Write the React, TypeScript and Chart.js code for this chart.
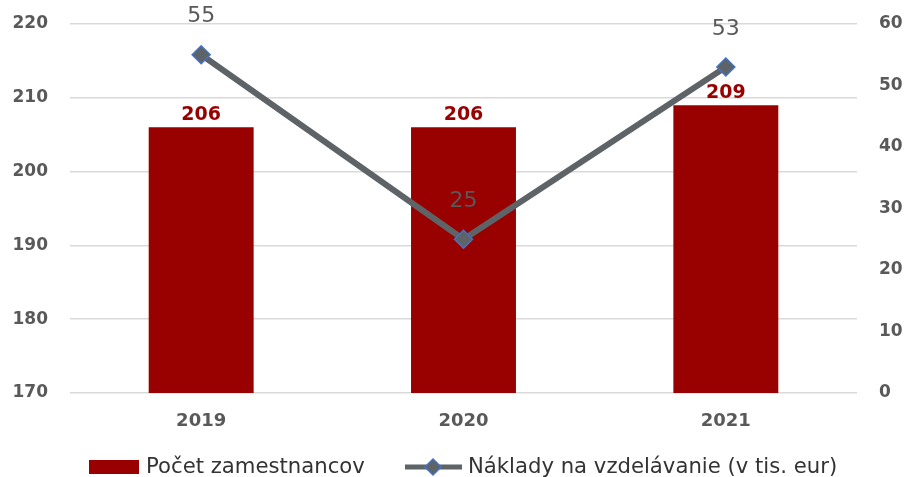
import React, { useEffect, useRef } from "react";
import { Chart, registerables } from "chart.js";

Chart.register(...registerables);

const categories = ["2019", "2020", "2021"];
const employees = [206, 206, 209];
const trainingCosts = [55, 25, 53];
const barLabel = "Počet zamestnancov";
const lineLabel = "Náklady na vzdelávanie (v tis. eur)";

const BAR_COLOR = "#990000";
const LINE_COLOR = "#5d6366";
const MARKER_BORDER = "#4472c4";
const TEXT_GREY = "#595959";
const FONT = "'DejaVu Sans', sans-serif";

const labelsPlugin = {
  id: "valueLabels",
  afterDatasetsDraw(chart: any) {
    const ctx = chart.ctx;
    ctx.save();
    ctx.textAlign = "center";
    ctx.textBaseline = "alphabetic";
    const barMeta = chart.getDatasetMeta(0);
    ctx.fillStyle = BAR_COLOR;
    ctx.font = `bold 19px ${FONT}`;
    barMeta.data.forEach((el: any, i: number) => {
      ctx.fillText(String(employees[i]), el.x, el.y - 7);
    });
    const lineMeta = chart.getDatasetMeta(1);
    ctx.fillStyle = TEXT_GREY;
    ctx.font = `22px ${FONT}`;
    lineMeta.data.forEach((el: any, i: number) => {
      ctx.textBaseline = "middle";
      ctx.fillText(String(trainingCosts[i]), el.x, el.y - 38);
    });
    ctx.restore();
  },
};

const legendPlugin = {
  id: "customLegend",
  afterDraw(chart: any) {
    const ctx = chart.ctx;
    ctx.save();
    const y = 467;
    ctx.fillStyle = BAR_COLOR;
    ctx.fillRect(89, y - 7, 50, 14);
    ctx.font = `21.2px ${FONT}`;
    ctx.fillStyle = "#333333";
    ctx.textBaseline = "middle";
    ctx.textAlign = "left";
    ctx.fillText(barLabel, 146, y);
    ctx.strokeStyle = LINE_COLOR;
    ctx.lineWidth = 5;
    ctx.beginPath();
    ctx.moveTo(405, y);
    ctx.lineTo(462, y);
    ctx.stroke();
    ctx.fillStyle = LINE_COLOR;
    ctx.strokeStyle = MARKER_BORDER;
    ctx.lineWidth = 1.5;
    ctx.beginPath();
    ctx.moveTo(433, y - 8);
    ctx.lineTo(441, y);
    ctx.lineTo(433, y + 8);
    ctx.lineTo(425, y);
    ctx.closePath();
    ctx.fill();
    ctx.stroke();
    ctx.fillStyle = "#333333";
    ctx.fillText(lineLabel, 468, y);
    ctx.restore();
  },
};

export default function App() {
  const ref = useRef<HTMLCanvasElement | null>(null);
  useEffect(() => {
    if (!ref.current) return;
    const chart = new Chart(ref.current, {
      type: "bar",
      data: {
        labels: categories,
        datasets: [
          {
            type: "bar",
            label: barLabel,
            data: employees,
            backgroundColor: BAR_COLOR,
            yAxisID: "y",
            categoryPercentage: 1,
            barPercentage: 0.4,
            order: 2,
          },
          {
            type: "line",
            label: lineLabel,
            data: trainingCosts,
            borderColor: LINE_COLOR,
            borderWidth: 6,
            pointStyle: "rectRot",
            pointRadius: 9,
            pointBackgroundColor: LINE_COLOR,
            pointBorderColor: MARKER_BORDER,
            pointBorderWidth: 1.5,
            yAxisID: "y1",
            order: 1,
          } as any,
        ],
      },
      options: {
        animation: false,
        responsive: false,
        layout: { padding: { top: 24, left: 0, right: 0, bottom: 0 } },
        plugins: { legend: { display: false }, tooltip: { enabled: false } },
        scales: {
          x: {
            grid: { display: false, drawTicks: false },
            border: { display: false },
            ticks: { color: TEXT_GREY, font: { family: FONT, size: 18, weight: "bold" }, padding: 18 },
            afterFit(scale: any) {
              scale.height = 84;
              scale.paddingLeft = 0;
              scale.paddingRight = 0;
            },
          },
          y: {
            position: "left",
            min: 170,
            max: 220,
            grid: { color: "#d9d9d9", lineWidth: 1.5, drawTicks: false },
            border: { display: false },
            ticks: { stepSize: 10, color: TEXT_GREY, font: { family: FONT, size: 17, weight: "bold" }, padding: 22 },
            afterFit(scale: any) {
              scale.width = 70;
              scale.paddingTop = 0;
              scale.paddingBottom = 0;
            },
          },
          y1: {
            position: "right",
            min: 0,
            max: 60,
            grid: { display: false, drawTicks: false },
            border: { display: false },
            ticks: { stepSize: 10, color: TEXT_GREY, font: { family: FONT, size: 17, weight: "bold" }, padding: 22 },
            afterFit(scale: any) {
              scale.width = 50;
              scale.paddingTop = 0;
              scale.paddingBottom = 0;
            },
          },
        },
      },
      plugins: [labelsPlugin, legendPlugin],
    });
    return () => chart.destroy();
  }, []);
  return (
    <div style={{ position: "absolute", left: 0, top: 0, width: 907, height: 477, background: "#fff" }}>
      <canvas ref={ref} width={907} height={477} style={{ display: "block" }} />
    </div>
  );
}
